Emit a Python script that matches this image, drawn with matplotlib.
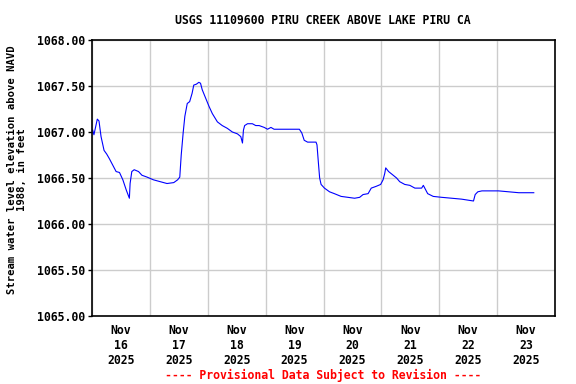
import datetime
import matplotlib
matplotlib.use("Agg")
import matplotlib.pyplot as plt
import matplotlib.dates as mdates

# hours after Nov 16 2025 00:00 and gage height (ft NAVD88)
hours = [0.3, 0.8, 2.2, 2.9, 3.75, 5.0, 6.1, 7.2, 8.6, 10.0, 11.4, 12.8, 14.2, 15.5,
         15.8, 16.5, 17.5, 19.3, 20.7, 22.8, 25.5, 28.3, 31.1, 33.9, 35.5, 36.4,
         37.0, 37.8, 38.5, 39.5, 40.5, 41.5, 42.2, 43.3, 44.3, 45.0, 45.7, 47.1,
         48.5, 49.9, 52.0, 54.0, 56.1, 58.2, 60.3, 61.7, 62.4, 62.8, 63.3, 64.5,
         66.5, 67.9, 69.3, 71.4, 72.8, 74.2, 75.5, 79.7, 86.0, 87.0, 88.0, 89.4,
         92.9, 93.3, 93.9, 94.4, 95.0, 96.4, 98.5, 100.5, 103.3, 106.1, 108.9,
         111.0, 112.4, 114.5, 115.8, 117.9, 119.7, 120.7, 121.4, 121.8, 123.0,
         124.9, 126.3, 127.6, 129.7, 131.8, 133.9, 136.7, 137.4, 138.0, 139.2,
         141.5, 145.0, 149.2, 153.3, 158.2, 158.9, 160.0, 161.7, 168.6, 177.0, 183.2]
levels = [1067.02, 1066.97, 1067.14, 1067.12, 1066.95, 1066.80, 1066.76, 1066.71,
          1066.64, 1066.57, 1066.56, 1066.48, 1066.37, 1066.28,
          1066.44, 1066.57, 1066.59, 1066.57, 1066.53, 1066.51, 1066.48, 1066.46,
          1066.44, 1066.45, 1066.48, 1066.51,
          1066.75, 1066.99, 1067.17, 1067.31, 1067.33, 1067.42, 1067.51, 1067.52,
          1067.54, 1067.53, 1067.46, 1067.37,
          1067.28, 1067.20, 1067.11, 1067.07, 1067.04, 1067.00, 1066.98, 1066.95,
          1066.88, 1067.02, 1067.07, 1067.09,
          1067.09, 1067.07, 1067.07, 1067.05, 1067.03, 1067.05, 1067.03, 1067.03,
          1067.03, 1066.99, 1066.91, 1066.89,
          1066.89, 1066.86, 1066.66, 1066.50, 1066.43, 1066.39, 1066.35, 1066.33,
          1066.30, 1066.29, 1066.28,
          1066.29, 1066.32, 1066.33, 1066.39, 1066.41, 1066.43, 1066.48, 1066.55,
          1066.61, 1066.57,
          1066.53, 1066.50, 1066.46, 1066.43, 1066.42, 1066.39, 1066.39, 1066.42,
          1066.39, 1066.33,
          1066.30, 1066.29, 1066.28, 1066.27, 1066.25, 1066.32, 1066.35, 1066.36,
          1066.36, 1066.34, 1066.34]

start = datetime.datetime(2025, 11, 16)
times = [start + datetime.timedelta(hours=h) for h in hours]

font = "DejaVu Sans Mono"
fs = 8.3

fig = plt.figure(figsize=(5.76, 3.84), dpi=100)
ax = fig.add_axes([92 / 576, 68 / 384, 463 / 576, 276 / 384])

ax.plot(times, levels, color="#0000ff", linewidth=0.8)

ax.set_xlim(start, start + datetime.timedelta(days=8))
ax.set_ylim(1065.0, 1068.0)
ax.set_yticks([1065.0, 1065.5, 1066.0, 1066.5, 1067.0, 1067.5, 1068.0])
ax.set_yticklabels(["%.2f" % v for v in ax.get_yticks()],
                   fontfamily=font, fontweight="bold", fontsize=fs)

# grid lines at midnight, labels at noon
ax.xaxis.set_minor_locator(mdates.DayLocator())
ax.xaxis.set_major_locator(mdates.HourLocator(byhour=12))
ax.xaxis.set_major_formatter(mdates.DateFormatter("%b\n%d\n%Y"))
for lbl in ax.get_xticklabels():
    lbl.set_fontfamily(font)
    lbl.set_fontweight("bold")
    lbl.set_fontsize(fs)
ax.tick_params(axis="x", which="both", length=0, pad=6)
ax.tick_params(axis="y", length=3, width=1, pad=2)

ax.grid(True, which="minor", axis="x", color="#cccccc", linewidth=1)
ax.grid(True, which="major", axis="y", color="#cccccc", linewidth=1)
ax.set_axisbelow(True)
for s in ax.spines.values():
    s.set_linewidth(1.2)

fig.text(323 / 576, 1 - 20 / 384, "USGS 11109600 PIRU CREEK ABOVE LAKE PIRU CA",
         ha="center", va="center", fontfamily=font, fontweight="bold", fontsize=fs)
fig.text(17 / 576, 1 - 170 / 384, "Stream water level elevation above NAVD\n1988, in feet",
         ha="center", va="center", rotation=90, fontfamily=font, fontweight="bold",
         fontsize=7.6, linespacing=1.05)
fig.text(323 / 576, 1 - 375 / 384, "---- Provisional Data Subject to Revision ----",
         ha="center", va="center", color="red", fontfamily=font, fontweight="bold",
         fontsize=fs)

fig.savefig("out.png", dpi=100)
